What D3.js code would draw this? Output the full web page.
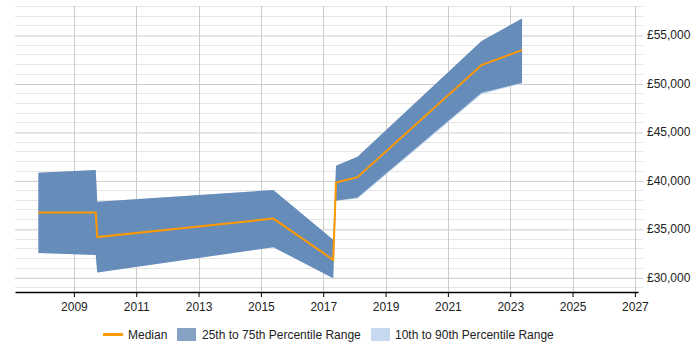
<!doctype html>
<html lang="en">
<head>
    <meta charset="utf-8">
    <title>Salary trend</title>
    <script src="https://cdn.jsdelivr.net/npm/d3@7"></script>
    <style>
        body { margin: 0; background: #fff; }
        svg { display: block; font-family: "Liberation Sans", Arial, sans-serif; }
        .tick text { fill: #222; font-size: 12px; }
    </style>
</head>
<body>
    <svg></svg>
    <script>
        var width = 700;
        var height = 350;

        // data (year as decimal)
        var years   = [2007.86, 2009.70, 2009.75, 2015.40, 2017.32, 2017.41, 2018.10, 2022.08, 2023.38];
        var median  = [36680, 36680, 34150, 36060, 31800, 39770, 40330, 51900, 53450];
        var p25     = [32500, 32300, 30500, 33100, 29900, 37900, 38230, 49050, 50080];
        var p75     = [40800, 41080, 37800, 39000, 33870, 41500, 42450, 54400, 56700];
        var p10     = [32500, 32300, 30500, 33100, 29900, 37900, 38100, 48900, 50000];
        var p90     = [40800, 41080, 37800, 39000, 33870, 41500, 42450, 54400, 56700];
        var xTicks  = [2009, 2011, 2013, 2015, 2017, 2019, 2021, 2023, 2025, 2027];
        var yTicks  = [30000, 35000, 40000, 45000, 50000, 55000];

        var plotLeft = 15, plotRight = 638, plotTop = 6, plotBottom = 292;

        var data = years.map(function (y, i) {
            return { x: y, med: median[i], q1: p25[i], q3: p75[i], lo: p10[i], hi: p90[i] };
        });

        var xScale = d3.scaleLinear().domain([2007.11, 2027.1]).range([plotLeft, plotRight]);
        var yScale = d3.scaleLinear().domain([28480, 58000]).range([plotBottom, plotTop]);

        var svg = d3.select('svg').attr('width', width).attr('height', height);

        // minor horizontal gridlines every 1000
        svg.append('g')
            .selectAll('line')
            .data(d3.range(29000, 58001, 1000).filter(function (v) { return v % 5000 !== 0; }))
            .enter().append('line')
            .attr('x1', plotLeft).attr('x2', plotRight + 5)
            .attr('y1', function (d) { return Math.round(yScale(d)) + 0.5; })
            .attr('y2', function (d) { return Math.round(yScale(d)) + 0.5; })
            .attr('stroke', '#e6e6e6');

        // major y axis on the right, ticks drawn as gridlines
        var yAxis = d3.axisRight(yScale)
            .tickValues(yTicks)
            .tickSize(0)
            .tickFormat(function (d) { return '£' + d3.format(',')(d); });

        var gy = svg.append('g')
            .attr('transform', 'translate(' + (plotRight + 5) + ',0)')
            .call(yAxis);
        gy.select('.domain').remove();
        gy.selectAll('.tick line')
            .attr('stroke', '#cccccc')
            .attr('x1', 0).attr('x2', -(plotRight + 5 - plotLeft))
            .attr('transform', 'translate(0,0.5)');
        gy.selectAll('.tick text').attr('x', 4);

        // vertical gridlines
        svg.append('g')
            .selectAll('line')
            .data(xTicks)
            .enter().append('line')
            .attr('x1', function (d) { return Math.round(xScale(d)) + 0.5; })
            .attr('x2', function (d) { return Math.round(xScale(d)) + 0.5; })
            .attr('y1', plotTop).attr('y2', plotBottom)
            .attr('stroke', '#cccccc');

        // 10th to 90th band
        var outer = d3.area()
            .x(function (d) { return xScale(d.x); })
            .y0(function (d) { return yScale(d.lo); })
            .y1(function (d) { return yScale(d.hi); });
        svg.append('path').datum(data)
            .attr('d', outer)
            .attr('fill', '#c6d9ee');

        // 25th to 75th band
        var inner = d3.area()
            .x(function (d) { return xScale(d.x); })
            .y0(function (d) { return yScale(d.q1); })
            .y1(function (d) { return yScale(d.q3); });
        svg.append('path').datum(data)
            .attr('d', inner)
            .attr('fill', '#4572a7')
            .attr('fill-opacity', 0.75);

        // median line
        var line = d3.line()
            .x(function (d) { return xScale(d.x); })
            .y(function (d) { return yScale(d.med); });
        svg.append('path').datum(data)
            .attr('d', line)
            .attr('fill', 'none')
            .attr('stroke', '#ff9900')
            .attr('stroke-width', 2);

        // x axis
        var xAxis = d3.axisBottom(xScale)
            .tickValues(xTicks)
            .tickSize(5)
            .tickSizeOuter(0)
            .tickFormat(d3.format('d'));
        var gx = svg.append('g')
            .attr('transform', 'translate(0,' + plotBottom + ')')
            .call(xAxis);
        gx.select('.domain').attr('stroke', '#000').attr('stroke-width', 1.5);
        gx.selectAll('.tick line').attr('stroke', '#000');
        gx.selectAll('.tick text').attr('dy', '0.9em');

        // legend
        var legend = svg.append('g').attr('font-size', '12px').attr('fill', '#222');
        legend.append('line')
            .attr('x1', 103).attr('x2', 123).attr('y1', 334.5).attr('y2', 334.5)
            .attr('stroke', '#ff9900').attr('stroke-width', 3);
        legend.append('text').attr('x', 128).attr('y', 339).text('Median');
        legend.append('rect').attr('x', 177).attr('y', 328).attr('width', 19).attr('height', 13)
            .attr('fill', '#4572a7').attr('fill-opacity', 0.65);
        legend.append('text').attr('x', 202).attr('y', 339).text('25th to 75th Percentile Range');
        legend.append('rect').attr('x', 371).attr('y', 328).attr('width', 19).attr('height', 13)
            .attr('fill', '#c6d9ee');
        legend.append('text').attr('x', 395).attr('y', 339).text('10th to 90th Percentile Range');
    </script>
</body>
</html>
